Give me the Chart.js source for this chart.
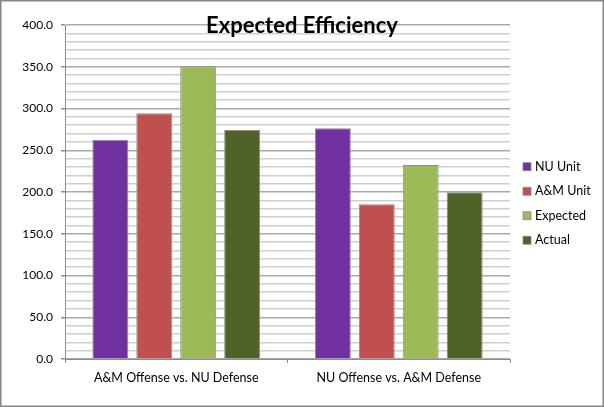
<!DOCTYPE html>
<html>
<head>
<meta charset="utf-8">
<title>Expected Efficiency</title>
<script src="https://cdn.jsdelivr.net/npm/chart.js@4"></script>
<style>
  html, body { margin: 0; padding: 0; background: #fff; }
  #wrap { position: relative; width: 604px; height: 407px; }
</style>
</head>
<body>
<div id="wrap"><canvas id="chart" width="604" height="407"></canvas></div>
<script>
const categories = ["A&M Offense vs. NU Defense", "NU Offense vs. A&M Defense"];
const seriesNames = ["NU Unit", "A&M Unit", "Expected", "Actual"];
const nuUnit = [262.6, 276.3];
const amUnit = [294.4, 185.3];
const expected = [350.6, 232.3];
const actual = [274.7, 199.8];
const seriesColors = ["#7030A0", "#C0504D", "#9BBB59", "#4F6228"];
const yMin = 0, yMax = 400, yMinorStep = 10, yMajorStep = 50;

const FONT = "Lato, 'Open Sans', sans-serif";

// white page, grey frame round the whole chart
const framePlugin = {
  id: "frame",
  beforeDraw(chart) {
    const { ctx, width, height } = chart;
    ctx.save();
    ctx.fillStyle = "#fff";
    ctx.fillRect(0, 0, width, height);
    ctx.restore();
  },
  afterDraw(chart) {
    const { ctx, width, height } = chart;
    ctx.save();
    ctx.strokeStyle = "#868686";
    ctx.lineWidth = 1.5;
    ctx.strokeRect(0.75, 0.75, width - 1.5, height - 1.5);
    ctx.restore();
  }
};

// title drawn on top of the plot, like the original
const titlePlugin = {
  id: "overTitle",
  afterDraw(chart) {
    const { ctx } = chart;
    ctx.save();
    ctx.font = "bold 22px " + FONT;
    ctx.fillStyle = "#000";
    ctx.textAlign = "center";
    ctx.textBaseline = "middle";
    ctx.fillText("Expected Efficiency", 302, 26);
    ctx.restore();
  }
};

// legend on the right, square swatches
const sideLegend = {
  id: "sideLegend",
  afterDraw(chart) {
    const { ctx, chartArea } = chart;
    const sets = chart.data.datasets;
    const gap = 24.5;
    const mid = (chartArea.top + chartArea.bottom) / 2 + 11.5;
    const y0 = mid - gap * (sets.length - 1) / 2;
    ctx.save();
    ctx.font = "12.5px " + FONT;
    ctx.textBaseline = "middle";
    ctx.textAlign = "left";
    sets.forEach((ds, i) => {
      const y = y0 + i * gap;
      ctx.fillStyle = ds.backgroundColor;
      ctx.fillRect(523, y - 4, 8, 8);
      ctx.strokeStyle = "#8c8c8c";
      ctx.lineWidth = 0.8;
      ctx.strokeRect(523, y - 4, 8, 8);
      ctx.fillStyle = "#000";
      ctx.fillText(ds.label, 535, y);
    });
    ctx.restore();
  }
};

const seriesValues = [nuUnit, amUnit, expected, actual];

new Chart(document.getElementById("chart"), {
  type: "bar",
  data: {
    labels: categories,
    datasets: seriesNames.map((name, i) => ({
      label: name,
      data: seriesValues[i],
      backgroundColor: seriesColors[i],
      borderColor: "#8c8c8c",
      borderWidth: 1,
      categoryPercentage: 0.79,
      barPercentage: 0.818
    }))
  },
  options: {
    responsive: false,
    animation: false,
    devicePixelRatio: 1,
    layout: { padding: { left: 0, top: 25, right: 94, bottom: 0 } },
    plugins: {
      legend: { display: false },
      title: { display: false },
      tooltip: { enabled: false }
    },
    scales: {
      x: {
        afterFit(scale) { scale.height = 48; },
        border: { color: "#8c8c8c", width: 1 },
        grid: {
          offset: true,
          drawOnChartArea: true,
          tickLength: 4,
          color: (c) => (c.index === 2 ? "#a6a6a6" : "rgba(0,0,0,0)"),
          tickColor: "#8c8c8c"
        },
        ticks: { color: "#000", font: { family: FONT, size: 12.5 }, padding: 7 }
      },
      y: {
        min: yMin,
        max: yMax,
        afterFit(scale) { scale.width = 65; },
        border: { color: "#8c8c8c", width: 1 },
        grid: {
          tickLength: 4,
          lineWidth: 1.5,
          color: (c) => (c.tick && c.tick.value % yMajorStep === 0 ? "#a9a9a9" : "#cfcfcf"),
          tickColor: (c) => (c.tick && c.tick.value % yMajorStep === 0 ? "#8c8c8c" : "rgba(0,0,0,0)")
        },
        ticks: {
          stepSize: yMinorStep,
          autoSkip: false,
          padding: 8,
          color: "#000",
          font: { family: FONT, size: 12 },
          callback: (v) => (v % yMajorStep === 0 ? v.toFixed(1) : "")
        }
      }
    }
  },
  plugins: [framePlugin, titlePlugin, sideLegend]
});
</script>
</body>
</html>
